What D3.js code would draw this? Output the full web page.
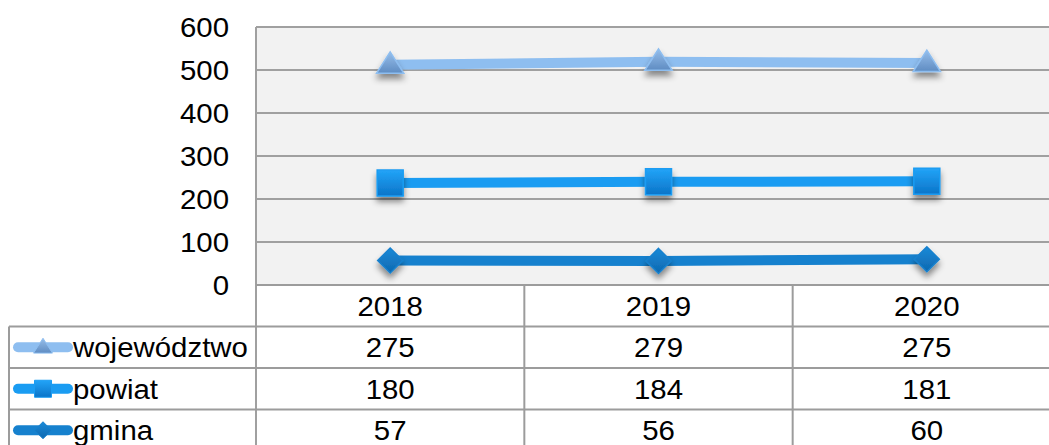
<!DOCTYPE html>
<html><head><meta charset="utf-8">
<script src="https://cdn.jsdelivr.net/npm/d3@7"></script>
<style>
html,body{margin:0;padding:0;background:#fff;}
svg{display:block;font-family:"Liberation Sans",Arial,sans-serif;}
</style></head>
<body>
<svg id="c" width="1049" height="445"></svg>
<script>
const categories = ["2018", "2019", "2020"];
const seriesNames = ["województwo", "powiat", "gmina"];
const wojewodztwo = [275, 279, 275];
const powiat = [180, 184, 181];
const gmina = [57, 56, 60];
const yTicks = [0, 100, 200, 300, 400, 500, 600];

(function () {
const seriesValues = {"województwo": wojewodztwo, "powiat": powiat, "gmina": gmina};
const rows = categories.map((c, i) => ({cat: c, "gmina": gmina[i], "powiat": powiat[i], "województwo": wojewodztwo[i]}));
const stack = d3.stack().keys(["gmina", "powiat", "województwo"]);
const stacked = stack(rows);

const svg = d3.select("#c");
const pL = 256, pR = 1061, pT = 27, pB = 285;
const rowH = 41.5;
const tableLeft = 9;
const FS = 27.5, SX = 1.07;

const x = d3.scaleBand().domain(categories).range([pL, pR]);
const y = d3.scaleLinear().domain([0, 600]).range([pB, pT]);

function txt(sel, px, py, anchor, s) {
  return sel.append("text").attr("transform", `translate(${px},${py}) scale(${SX},1)`)
    .attr("dy", "0.36em").attr("text-anchor", anchor).attr("font-size", FS).attr("fill", "#000").text(s);
}

const style = {
  "województwo": {line: "#8EBEF0", g1: "#96BEEA", g2: "#5F8CC2", stroke: "#8EBEF0", shape: "tri"},
  "powiat": {line: "#1A9CF2", g1: "#22A4F8", g2: "#0B74C8", stroke: "#1A9CF2", shape: "sq"},
  "gmina": {line: "#1681CE", g1: "#1A8AD8", g2: "#0E68B0", stroke: "#1681CE", shape: "dia"}
};

const defs = svg.append("defs");
Object.entries(style).forEach(([k, s], i) => {
  const g = defs.append("linearGradient").attr("id", "g" + i).attr("x1", 0).attr("y1", 0).attr("x2", 0).attr("y2", 1);
  g.append("stop").attr("offset", "0%").attr("stop-color", s.g1);
  g.append("stop").attr("offset", "100%").attr("stop-color", s.g2);
  s.grad = "url(#g" + i + ")";
});
const f = defs.append("filter").attr("id", "sh").attr("x", "-50%").attr("y", "-50%").attr("width", "200%").attr("height", "220%");
f.append("feDropShadow").attr("dx", 0).attr("dy", 5).attr("stdDeviation", 3).attr("flood-color", "#000").attr("flood-opacity", 0.45);

function shapePath(shape, r) {
  if (shape === "tri") return `M0,${-r}L${r * 1.05},${r * 0.65}L${-r * 1.05},${r * 0.65}Z`;
  if (shape === "sq") return `M${-r},${-r}H${r}V${r}H${-r}Z`;
  return `M0,${-r}L${r},0L0,${r}L${-r},0Z`;
}

svg.append("rect").attr("x", pL).attr("y", pT).attr("width", pR - pL).attr("height", pB - pT).attr("fill", "#F2F2F2");

svg.append("g").selectAll("line").data(yTicks).join("line")
  .attr("x1", pL).attr("x2", pR)
  .attr("y1", d => y(d)).attr("y2", d => y(d))
  .attr("stroke", "#A0A0A0").attr("stroke-width", 2);

svg.append("line").attr("x1", pL).attr("x2", pL).attr("y1", pT).attr("y2", 445).attr("stroke", "#A0A0A0").attr("stroke-width", 2);

const yl = svg.append("g");
yTicks.forEach(t => txt(yl, 229, y(t), "end", t));

const lineGen = d3.line().x((d, i) => x(categories[i]) + x.bandwidth() / 2).y(d => y(d[1]));
stacked.forEach(s => {
  const st = style[s.key];
  svg.append("path").datum(s).attr("d", lineGen).attr("fill", "none")
    .attr("stroke", st.line).attr("stroke-width", 10).attr("stroke-linecap", "butt");
});
stacked.forEach(s => {
  const st = style[s.key];
  const r = st.shape === "tri" ? 13 : (st.shape === "sq" ? 13 : 12.5);
  svg.append("g").selectAll("path").data(s).join("path")
    .attr("transform", (d, i) => `translate(${x(categories[i]) + x.bandwidth() / 2},${y(d[1])})`)
    .attr("d", shapePath(st.shape, r))
    .attr("fill", st.grad).attr("stroke", st.stroke).attr("stroke-width", 1.5)
    .attr("filter", "url(#sh)");
});

const tg = svg.append("g");
const lc = "#9C9C9C";
tg.append("line").attr("x1", pL).attr("x2", 1049).attr("y1", pB).attr("y2", pB).attr("stroke", lc).attr("stroke-width", 2);
for (let r = 1; r <= 3; r++) {
  tg.append("line").attr("x1", tableLeft).attr("x2", 1049).attr("y1", pB + rowH * r).attr("y2", pB + rowH * r).attr("stroke", lc).attr("stroke-width", 2);
}
tg.append("line").attr("x1", tableLeft).attr("x2", tableLeft).attr("y1", pB + rowH).attr("y2", 445).attr("stroke", lc).attr("stroke-width", 2);
categories.forEach((c, i) => {
  if (i > 0) tg.append("line").attr("x1", x(c)).attr("x2", x(c)).attr("y1", pB).attr("y2", 445).attr("stroke", lc).attr("stroke-width", 2);
});
categories.forEach(c => txt(tg, x(c) + x.bandwidth() / 2, pB + rowH / 2, "middle", c));

seriesNames.forEach((name, r) => {
  const cy = pB + rowH * (r + 1) + rowH / 2;
  const st = style[name];
  tg.append("line").attr("x1", 18).attr("x2", 68).attr("y1", cy).attr("y2", cy)
    .attr("stroke", st.line).attr("stroke-width", 10).attr("stroke-linecap", "round");
  const rr = st.shape === "tri" ? 9 : 8.5;
  tg.append("path").attr("transform", `translate(43,${cy})`).attr("d", shapePath(st.shape, rr))
    .attr("fill", st.grad).attr("stroke", st.stroke).attr("stroke-width", 1);
  txt(tg, 73, cy, "start", name);
  seriesValues[name].forEach((v, i) => txt(tg, x(categories[i]) + x.bandwidth() / 2, cy, "middle", v));
});
})();
</script>
</body></html>
